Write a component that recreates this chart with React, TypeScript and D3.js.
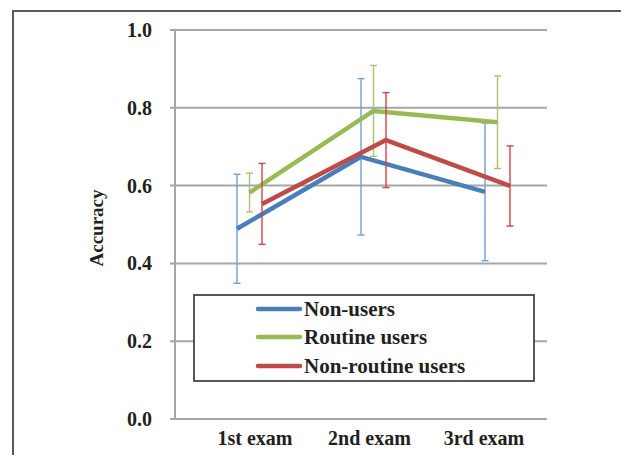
import { useEffect, useRef } from 'react';
import * as d3 from 'd3';

const categories = ['1st exam', '2nd exam', '3rd exam'];
const seriesNames = ['Non-users', 'Routine users', 'Non-routine users'];
const nonUsers = [0.489, 0.674, 0.584];
const nonUsersErr = [0.14, 0.201, 0.177];
const routineUsers = [0.582, 0.792, 0.763];
const routineUsersErr = [0.05, 0.117, 0.119];
const nonRoutineUsers = [0.553, 0.717, 0.599];
const nonRoutineUsersErr = [0.104, 0.122, 0.103];
const yTicks = [0, 0.2, 0.4, 0.6, 0.8, 1.0];

const lineColors = ['#4a7ebb', '#98b954', '#be4b48'];
const errColors = ['#6f9fd8', '#a8c46a', '#d24543'];

export default function App() {
  const svgRef = useRef<SVGSVGElement>(null);

  useEffect(() => {
    if (!svgRef.current) return;
    const svg = d3.select(svgRef.current);
    svg.selectAll('*').remove();

    const width = 621;
    const height = 455;
    const font = '"Liberation Serif", "Times New Roman", serif';

    svg.attr('width', width).attr('height', height);

    svg.append('rect')
      .attr('x', 0).attr('y', 0).attr('width', width).attr('height', height)
      .attr('fill', '#fff');

    // outer frame (cut off at right and bottom)
    svg.append('rect')
      .attr('x', 13).attr('y', 11).attr('width', width + 10).attr('height', height + 10)
      .attr('fill', 'none').attr('stroke', '#5a5a5a').attr('stroke-width', 2);

    const plotLeft = 175;
    const plotRight = 547;
    const x = d3.scaleBand<string>().domain(categories).range([plotLeft, plotRight]);
    const xLabel = d3.scalePoint<string>().domain(categories).range([255, 484]);
    const y = d3.scaleLinear().domain([0, 1]).range([419, 30]);

    // grid lines + tick marks
    yTicks.forEach((t) => {
      svg.append('line')
        .attr('x1', plotLeft - 5).attr('x2', plotRight)
        .attr('y1', y(t)).attr('y2', y(t))
        .attr('stroke', '#a6a6a6').attr('stroke-width', 2);
      svg.append('text')
        .attr('x', 152).attr('y', y(t))
        .attr('text-anchor', 'end').attr('dominant-baseline', 'central')
        .attr('font-family', font).attr('font-weight', 'bold').attr('font-size', 20)
        .attr('fill', '#231f20')
        .text(t.toFixed(1));
    });

    svg.append('line')
      .attr('x1', plotLeft).attr('x2', plotLeft)
      .attr('y1', y(1)).attr('y2', y(0))
      .attr('stroke', '#a6a6a6').attr('stroke-width', 2);

    // x labels
    categories.forEach((c) => {
      svg.append('text')
        .attr('x', xLabel(c)!).attr('y', 445)
        .attr('text-anchor', 'middle')
        .attr('font-family', font).attr('font-weight', 'bold').attr('font-size', 20)
        .attr('fill', '#231f20')
        .text(c);
    });

    // y title
    svg.append('text')
      .attr('transform', `translate(103,228) rotate(-90)`)
      .attr('text-anchor', 'middle')
      .attr('font-family', font).attr('font-weight', 'bold').attr('font-size', 19)
      .attr('fill', '#231f20')
      .text('Accuracy');

    const series = [
      { values: nonUsers, err: nonUsersErr },
      { values: routineUsers, err: routineUsersErr },
      { values: nonRoutineUsers, err: nonRoutineUsersErr },
    ];
    const offsets = [0, 12.5, 25];
    const cx = (c: string, i: number) => x(c)! + x.bandwidth() / 2 + offsets[i];

    series.forEach((s, i) => {
      // error bars
      categories.forEach((c, j) => {
        const px = cx(c, i);
        const top = y(s.values[j] + s.err[j]);
        const bot = y(s.values[j] - s.err[j]);
        const g = svg.append('g')
          .attr('stroke', errColors[i]).attr('stroke-width', 1.4);
        g.append('line').attr('x1', px).attr('x2', px).attr('y1', top).attr('y2', bot);
        g.append('line').attr('x1', px - 3.5).attr('x2', px + 3.5).attr('y1', top).attr('y2', top);
        g.append('line').attr('x1', px - 3.5).attr('x2', px + 3.5).attr('y1', bot).attr('y2', bot);
      });

      const line = d3.line<number>()
        .x((_, j) => cx(categories[j], i))
        .y((d) => y(d));
      svg.append('path')
        .datum(s.values)
        .attr('d', line)
        .attr('fill', 'none')
        .attr('stroke', lineColors[i])
        .attr('stroke-width', 4.5)
        .attr('stroke-linejoin', 'round');
    });

    // legend
    const lg = svg.append('g');
    lg.append('rect')
      .attr('x', 194).attr('y', 295).attr('width', 340).attr('height', 86)
      .attr('fill', '#fff').attr('stroke', '#231f20').attr('stroke-width', 1.5);
    const rowY = [309, 337, 366];
    seriesNames.forEach((name, i) => {
      lg.append('line')
        .attr('x1', 258).attr('x2', 300)
        .attr('y1', rowY[i]).attr('y2', rowY[i])
        .attr('stroke', lineColors[i]).attr('stroke-width', 4.5)
        .attr('stroke-linecap', 'round');
      lg.append('text')
        .attr('x', 304).attr('y', rowY[i])
        .attr('dominant-baseline', 'central')
        .attr('font-family', font).attr('font-weight', 'bold').attr('font-size', 21)
        .attr('fill', '#231f20')
        .text(name);
    });
  }, []);

  return (
    <svg ref={svgRef} style={{ position: 'absolute', left: 0, top: 0, display: 'block' }} />
  );
}
